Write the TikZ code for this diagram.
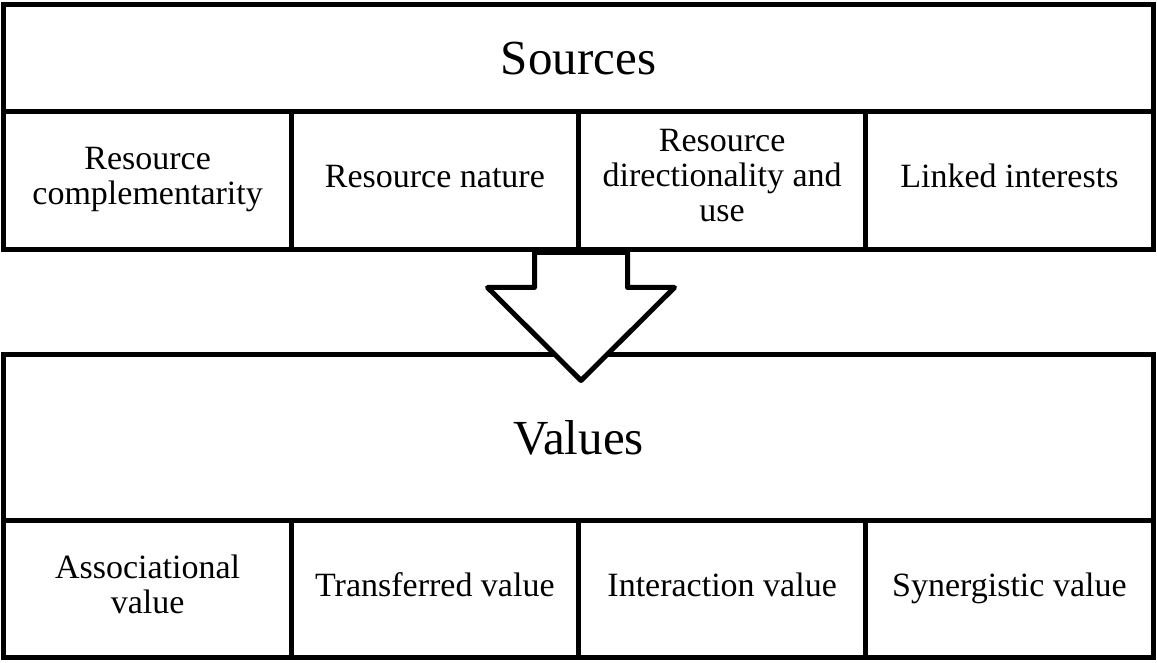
\documentclass[tikz,border=0pt]{standalone}
\usepackage{fontspec}
\setmainfont{Liberation Serif}
\usepackage{tikz}
\tikzset{basic/.style={draw,line width=2.5bp,fill=white,
                       align=center,inner sep=0pt}}
\tikzset{header/.style={basic,rectangle,minimum width=574.5bp,
                        font=\fontsize{24.5bp}{28bp}\selectfont}}
\tikzset{cell/.style={basic,rectangle,minimum width=143.625bp,
                      font=\fontsize{17bp}{17.5bp}\selectfont,
                      execute at begin node=\strut,execute at end node=\strut}}
\tikzset{bigarrow/.style={draw,line width=2.5bp,fill=white,line join=round}}

\begin{document}
\begin{tikzpicture}[x=0.5bp,y=0.5bp]
    \useasboundingbox (0,0) rectangle (1157,662);
    % Sources
    \node[header,minimum height=53.5bp] (src) at (578.5,603.5) {Sources};
    \foreach \h [count=\hi ] in {{Resource\\complementarity},Resource nature,
                                 {Resource\\directionality and\\use},Linked interests}{%
          \node[cell,minimum height=69bp] (s\hi) at (287.25*\hi-139.625,481) {\h};
        }
    % Values
    \node[header,minimum height=83bp] (val) at (578.5,224) {Values};
    \foreach \h [count=\hi ] in {{Associational\\value},Transferred value,
                                 Interaction value,Synergistic value}{%
          \node[cell,minimum height=68bp] (v\hi) at (287.25*\hi-139.625,73) {\h};
        }
    % Arrow
    \coordinate (stem) at (s2.south east);
    \draw[bigarrow] ([xshift=-23.25bp]stem) -- ++(0,-35) -- ++(-47,0)
          -- ++(93.5,-93) -- ++(93.5,93) -- ++(-47,0)
          -- ([xshift=23.25bp]stem) -- cycle;
\end{tikzpicture}
\end{document}
